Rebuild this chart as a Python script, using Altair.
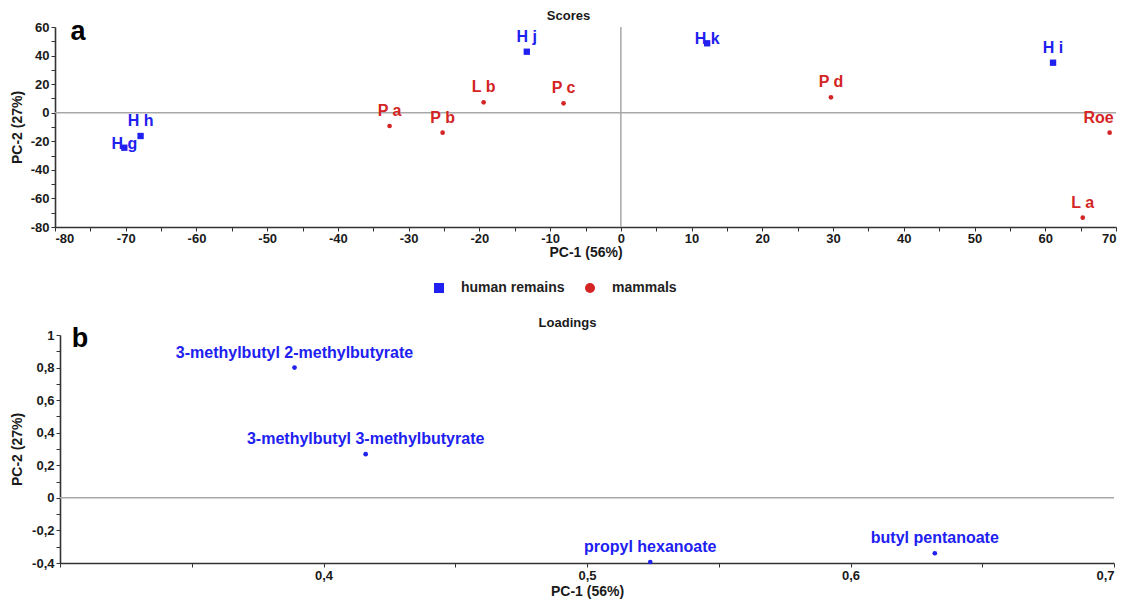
import altair as alt
import pandas as pd

# ---------------- data ----------------
score_labels = ["H g", "H h", "P a", "P b", "L b", "P c", "H j", "H k", "P d", "H i", "Roe", "L a"]
score_pc1 = [-70.2, -67.9, -32.7, -25.2, -19.4, -8.1, -13.3, 12.2, 29.7, 61.1, 69.1, 65.3]
score_pc2 = [-24.5, -16.3, -9.3, -14.0, 7.3, 6.6, 42.7, 48.6, 10.8, 35.0, -14.0, -73.5]
score_group = ["human remains", "human remains", "mammals", "mammals", "mammals", "mammals",
               "human remains", "human remains", "mammals", "human remains", "mammals", "mammals"]

loading_labels = ["3-methylbutyl 2-methylbutyrate", "3-methylbutyl 3-methylbutyrate",
                  "propyl hexanoate", "butyl pentanoate"]
loading_pc1 = [0.389, 0.416, 0.524, 0.632]
loading_pc2 = [0.80, 0.268, -0.394, -0.34]

groups = ["human remains", "mammals"]
zero_value = [0]

# centred-on-point labels and the one shifted left
centred_labels = ["H g", "H k"]
left_labels = ["Roe"]

scores = pd.DataFrame({"label": score_labels, "pc1": score_pc1, "pc2": score_pc2, "group": score_group})
loadings = pd.DataFrame({"label": loading_labels, "pc1": loading_pc1, "pc2": loading_pc2})
zero_df = pd.DataFrame({"zero": zero_value})

# ---------------- style ----------------
FONT = "Liberation Sans"
BLUE = "#2020f0"
RED = "#d42424"
AXIS_COLOR = "#333333"
ZERO_COLOR = "#a8a8a8"

axis_style = dict(
    domainColor=AXIS_COLOR, domainWidth=1.6, tickColor=AXIS_COLOR, tickWidth=1, tickSize=4,
    labelFont=FONT, labelFontSize=13, labelFontWeight="bold", labelColor="#1a1a1a",
    titleFont=FONT, titleFontSize=14, titleFontWeight="bold", titleColor="#1a1a1a",
    grid=False, labelPadding=2,
)

# ---------------- panel a : scores ----------------
xa_scale = alt.Scale(domain=[-80, 70], nice=False, zero=False)
ya_scale = alt.Scale(domain=[-80, 60], nice=False, zero=False)

xa_axis = alt.Axis(values=list(range(-80, 75, 5)),
                   labelExpr="datum.value % 10 === 0 ? toString(datum.value) : ''",
                   title="PC-1 (56%)", titlePadding=0, labelPadding=1,
                   **{k: v for k, v in axis_style.items() if k != "labelPadding"})
ya_axis = alt.Axis(values=list(range(-80, 70, 10)),
                   labelExpr="datum.value % 20 === 0 ? toString(datum.value) : ''",
                   title="PC-2 (27%)", titlePadding=6, **axis_style)

legend = alt.Legend(
    title=None, orient="none", legendX=377, legendY=254, direction="horizontal",
    labelFont=FONT, labelFontSize=14, labelFontWeight="bold", labelColor="#222222",
    symbolSize=100, labelOffset=15, columnPadding=18, symbolStrokeWidth=0, padding=0,
)

hzero_a = alt.Chart(zero_df).mark_rule(color=ZERO_COLOR, strokeWidth=1.5).encode(
    y=alt.Y("zero:Q", scale=ya_scale, axis=ya_axis))
vzero_a = alt.Chart(zero_df).mark_rule(color=ZERO_COLOR, strokeWidth=1.5).encode(
    x=alt.X("zero:Q", scale=xa_scale, axis=xa_axis))

base_a = alt.Chart(scores).encode(
    x=alt.X("pc1:Q", scale=xa_scale, axis=xa_axis),
    y=alt.Y("pc2:Q", scale=ya_scale, axis=ya_axis),
)

points_a = base_a.mark_point(filled=True, opacity=1).encode(
    color=alt.Color("group:N", scale=alt.Scale(domain=groups, range=[BLUE, RED]), legend=legend),
    shape=alt.Shape("group:N", scale=alt.Scale(domain=groups, range=["square", "circle"]), legend=legend),
    size=alt.Size("group:N", scale=alt.Scale(domain=groups, range=[40, 22]), legend=None),
)

text_color = alt.Color("group:N", scale=alt.Scale(domain=groups, range=[BLUE, RED]), legend=None)
text_style = dict(font=FONT, fontSize=16, fontWeight="bold", align="center", baseline="middle")

labels_above = base_a.transform_filter(
    {"not": {"field": "label", "oneOf": centred_labels + left_labels}}
).mark_text(dy=-15, **text_style).encode(text="label:N", color=text_color)
labels_centred = base_a.transform_filter(
    {"field": "label", "oneOf": centred_labels}
).mark_text(dy=-4, **text_style).encode(text="label:N", color=text_color)
labels_left = base_a.transform_filter(
    {"field": "label", "oneOf": left_labels}
).mark_text(dy=-15, dx=-11, **text_style).encode(text="label:N", color=text_color)

letter_a = alt.Chart(zero_df).mark_text(
    text="a", font=FONT, fontSize=27, fontWeight="bold", color="black", align="center", baseline="middle"
).encode(x=alt.value(23), y=alt.value(5))

panel_a = alt.layer(hzero_a, vzero_a, points_a, labels_above, labels_centred, labels_left, letter_a).properties(
    width=1061, height=200,
    title=alt.TitleParams("Scores", font=FONT, fontSize=13, fontWeight="bold", color="#1a1a1a",
                          offset=-5, dx=-17),
).resolve_legend(color="independent", shape="independent")

# ---------------- panel b : loadings ----------------
# plot area drawn 5px to the right of panel a's
xb_scale = alt.Scale(domain=[0.3, 0.7], nice=False, zero=False, range=[5, 1059])
yb_scale = alt.Scale(domain=[-0.4, 1.0], nice=False, zero=False)

xb_axis = alt.Axis(values=[0.3, 0.35, 0.4, 0.45, 0.5, 0.55, 0.6, 0.65, 0.7],
                   labelExpr="(round(datum.value*100) % 10 === 0 && datum.value > 0.35) ? replace(toString(round(datum.value*10)/10), '.', ',') : ''",
                   title="PC-1 (56%)", titlePadding=2, **axis_style)
yb_axis = alt.Axis(values=[-0.4, -0.3, -0.2, -0.1, 0, 0.1, 0.2, 0.3, 0.4, 0.5, 0.6, 0.7, 0.8, 0.9, 1.0],
                   labelExpr="abs(round(datum.value*10)) % 2 === 0 ? replace(toString(round(datum.value*10)/10), '.', ',') : ''",
                   title="PC-2 (27%)", titlePadding=7, offset=-5, **axis_style)

hzero_b = alt.Chart(zero_df).mark_rule(color=ZERO_COLOR, strokeWidth=1.5).encode(
    y=alt.Y("zero:Q", scale=yb_scale, axis=yb_axis),
    x=alt.datum(0.3, scale=xb_scale, axis=xb_axis),
    x2=alt.datum(0.7),
)

base_b = alt.Chart(loadings).encode(
    x=alt.X("pc1:Q", scale=xb_scale, axis=xb_axis),
    y=alt.Y("pc2:Q", scale=yb_scale, axis=yb_axis),
)
points_b = base_b.mark_point(filled=True, opacity=1, size=22, shape="circle", color=BLUE)
labels_b = base_b.mark_text(dy=-15, font=FONT, fontSize=16, fontWeight="bold", align="center",
                            baseline="middle", color=BLUE).encode(text="label:N")

letter_b = alt.Chart(zero_df).mark_text(
    text="b", font=FONT, fontSize=27, fontWeight="bold", color="black", align="center", baseline="middle"
).encode(x=alt.value(25), y=alt.value(4))

panel_b = alt.layer(hzero_b, points_b, labels_b, letter_b).properties(
    width=1059, height=228,
    title=alt.TitleParams("Loadings", font=FONT, fontSize=13, fontWeight="bold", color="#1a1a1a",
                          offset=-5, dx=-17),
)

chart = alt.vconcat(panel_a, panel_b, spacing=22).properties(
    padding={"left": 10, "top": 10, "right": 5, "bottom": 5},
    background="white",
).configure_view(stroke=None)

chart.save("out.html", embed_options={"renderer": "svg", "actions": False})
